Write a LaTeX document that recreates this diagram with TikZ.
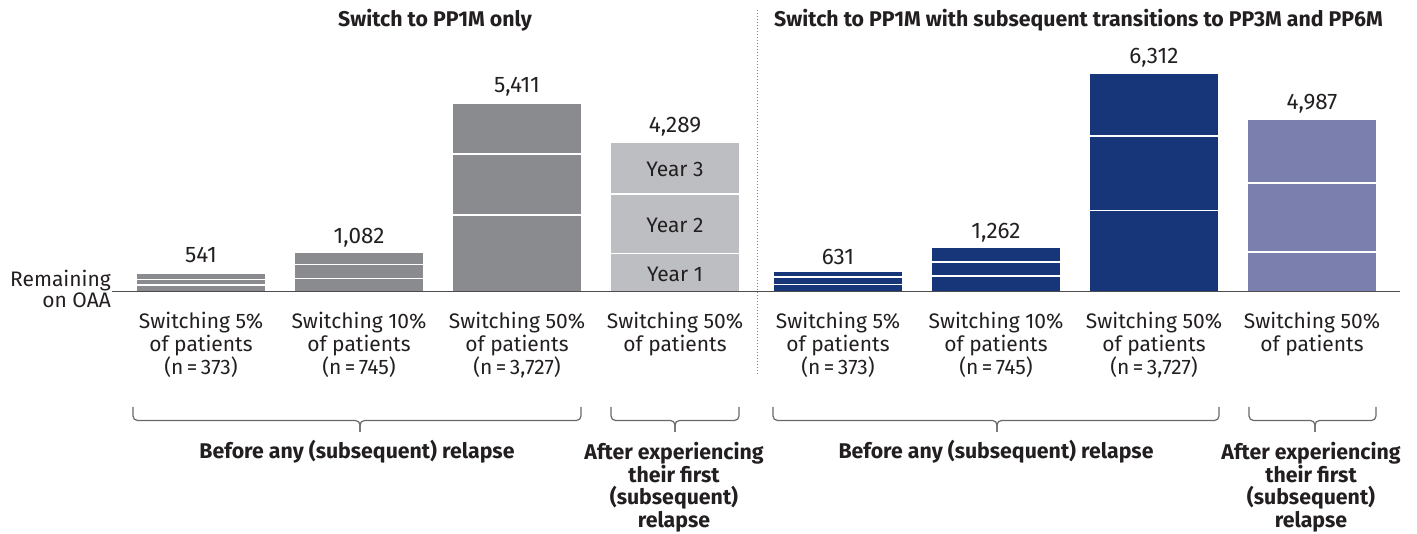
\documentclass[tikz,border=0pt]{standalone}
\usepackage{fontspec}
\setmainfont{Fira Sans}
\definecolor{txt}{HTML}{231F20}
\definecolor{gdark}{HTML}{898B8E}
\definecolor{glight}{HTML}{BDBEC1}
\definecolor{navy}{HTML}{17367A}
\definecolor{lav}{HTML}{7A7FAE}
\definecolor{axisc}{HTML}{4D4D4F}
\begin{document}
\begin{tikzpicture}[x=1pt,y=-1pt,
  lbl/.style={text=txt, font=\fontsize{21}{23.2}\selectfont, align=center, inner sep=0pt},
  val/.style={lbl, anchor=base},
  num/.style={val, font=\fontsize{22.5}{24}\selectfont},
  hdr/.style={text=txt, font=\bfseries\fontsize{21.3}{22.7}\selectfont, align=center, inner sep=0pt},
  divider/.style={white, line width=1.5pt},
  brace/.style={draw=axisc!85, line width=1.2pt, rounded corners=4.5pt}]
\useasboundingbox (0,0) rectangle (1417,534);

% stacked bars: left x / top / divider 1 / divider 2 / fill colour
\foreach \x/\t/\da/\db/\c in {137/274/279.5/285/gdark, 295/253.5/264.5/278.5/gdark,
    453/104/154/215/gdark, 611/143/194/253.5/glight,
    774/272/277/284.5/navy, 932/248.5/262/276/navy,
    1090/74/136/210.5/navy, 1248/120/183/252/lav}{
  \fill[\c] (\x,\t) rectangle (\x+128,291.5);
  \draw[divider] (\x,\da) -- (\x+128,\da);
  \draw[divider] (\x,\db) -- (\x+128,\db);
}

% baseline and panel separator
\draw[axisc, line width=1.5pt] (112,291.5) -- (1400,291.5);
\draw[gray, line width=1pt, dotted] (757.5,10) -- (757.5,375);

% panel titles
\node[hdr, anchor=base] (t1) at (435,26.7) {Switch to PP1M only};
\node[hdr, anchor=base] (t2) at (1078.5,26.7) {Switch to PP1M with subsequent transitions to PP3M and PP6M};

% axis label
\node[lbl, anchor=north east, align=right, font=\fontsize{21}{21}\selectfont] (ax) at (111,269.5) {Remaining\\on OAA};

% values above bars
\node[num] (v1) at (201,263) {541};
\node[num] (v2) at (359,243.3) {1,082};
\node[num] (v3) at (517,93) {5,411};
\node[num] (v4) at (675,132.5) {4,289};
\node[num] (v5) at (838,265) {631};
\node[num] (v6) at (996,239) {1,262};
\node[num] (v7) at (1154,63.3) {6,312};
\node[num] (v8) at (1312,109.5) {4,987};

% year labels inside the light bar
\node[val] (y3) at (675,176.7) {Year 3};
\node[val] (y2) at (675,232.7) {Year 2};
\node[val] (y1) at (675,281.5) {Year 1};

% category labels
\node[lbl, anchor=north] (c1) at (201,311.5) {Switching 5\%\\of patients\\(n\,=\,373)};
\node[lbl, anchor=north] (c2) at (359,311.5) {Switching 10\%\\of patients\\(n\,=\,745)};
\node[lbl, anchor=north] (c3) at (517,311.5) {Switching 50\%\\of patients\\(n\,=\,3,727)};
\node[lbl, anchor=north] (c4) at (675,311.5) {Switching 50\%\\of patients};
\node[lbl, anchor=north] (c5) at (838,311.5) {Switching 5\%\\of patients\\(n\,=\,373)};
\node[lbl, anchor=north] (c6) at (996,311.5) {Switching 10\%\\of patients\\(n\,=\,745)};
\node[lbl, anchor=north] (c7) at (1154,311.5) {Switching 50\%\\of patients\\(n\,=\,3,727)};
\node[lbl, anchor=north] (c8) at (1312,311.5) {Switching 50\%\\of patients};

% braces grouping the bars
\foreach \a/\m/\b in {133/360/581, 611/675/739, 773/997/1219, 1249/1315/1376}{
  \draw[brace] (\a,407) -- (\a,420.5) -- (\m,420.5) -- (\m,432);
  \draw[brace] (\b,407) -- (\b,420.5) -- (\m,420.5) -- (\m,432);
}

% group captions
\node[hdr, anchor=base] (g1) at (357,459) {Before any (subsequent) relapse};
\node[hdr, anchor=north] (g2) at (674,442) {After experiencing\\their first\\(subsequent)\\relapse};
\node[hdr, anchor=base] (g3) at (996,459) {Before any (subsequent) relapse};
\node[hdr, anchor=north] (g4) at (1311,442) {After experiencing\\their first\\(subsequent)\\relapse};
\end{tikzpicture}
\end{document}
